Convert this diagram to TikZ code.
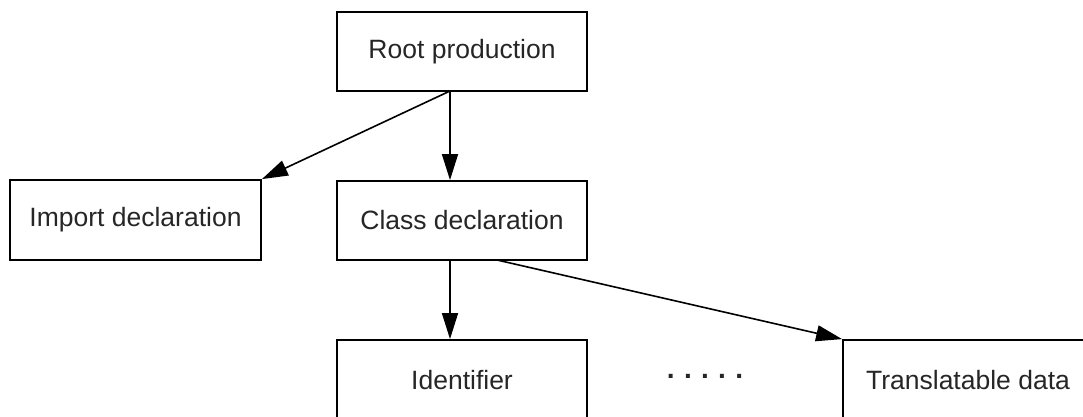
\documentclass[tikz,border=0pt]{standalone}
\usepackage{fontspec}
\setmainfont{Liberation Sans}
\usetikzlibrary{arrows.meta}
\begin{document}
\begin{tikzpicture}[x=1pt,y=-1pt,
  lbl/.style={font=\fontsize{26.5}{30}\selectfont,text=black!85},
  box/.style={lbl,draw=black,line width=1.8pt,minimum width=250pt,minimum height=79pt,inner sep=0pt},
  arr/.style={line width=1.6pt,-{Triangle[length=26pt,width=16pt]}}]
\useasboundingbox (0,0) rectangle (1083,417);
\clip (0,0) rectangle (1083,417);
\node[box] (root) at (462,51.5) {Root production};
\node[box] (class) at (462,220.5) {Class declaration};
\node[box,minimum width=251pt,minimum height=80pt] (import) at (135.5,220) {Import declaration};
\node[box,minimum height=80pt] (ident) at (462,380) {Identifier};
\node[box,minimum height=80pt] (trans) at (968,380) {Translatable data};
\node[lbl,font=\fontsize{28}{30}\bfseries] (dots) at (705,376) {.\,\,.\,\,.\,\,.\,\,.};
\coordinate (rs) at (450,91);
\coordinate (cs) at (450,260);
\coordinate (cd) at (497,260);
\draw[arr] (rs) -- (rs |- class.north);
\draw[arr] (rs) -- (import.north east);
\draw[arr] (cs) -- (cs |- ident.north);
\draw[arr] (cd) -- (trans.north west);
\end{tikzpicture}
\end{document}
